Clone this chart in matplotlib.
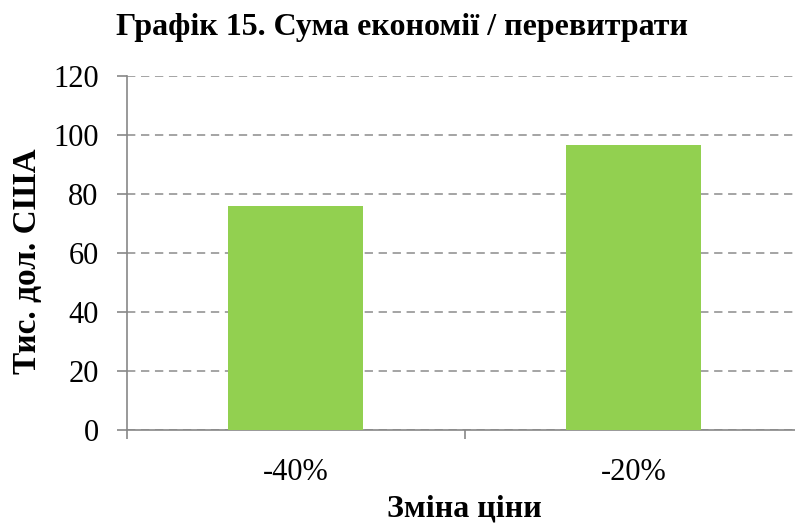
import matplotlib
matplotlib.use("Agg")
import matplotlib.pyplot as plt
from matplotlib.ticker import FixedLocator

categories = ["-40%", "-20%"]
values = [76, 96.5]
yticks = [0, 20, 40, 60, 80, 100, 120]

title = "Графік 15. Сума економії / перевитрати"
xlabel = "Зміна ціни"
ylabel = "Тис. дол. США"

plt.rcParams['font.family'] = ['Liberation Serif', 'DejaVu Serif']

fig = plt.figure(figsize=(7.95, 5.26), dpi=100)
ax = fig.add_axes([126.7/795, (526-430)/526, 676/795, 354/526])

x = list(range(len(categories)))
ax.bar(x, values, width=0.4, color="#92D050", zorder=3)

ax.set_xlim(-0.5, len(categories) - 0.5)
ax.set_ylim(0, 120)
ax.set_yticks(yticks)
ax.set_yticklabels([str(t) for t in yticks], fontsize=22)
ax.set_xticks(x)
ax.set_xticklabels(categories, fontsize=22)
ax.xaxis.set_minor_locator(FixedLocator([i - 0.5 for i in range(len(categories) + 1)]))

grid_color = "#8c8c8c"
ax.yaxis.grid(True, color=grid_color, linewidth=1.1, linestyle=(0, (5.45, 3.7)), zorder=0)
ax.set_axisbelow(True)

for s in ["top", "right"]:
    ax.spines[s].set_visible(False)
for s in ["left", "bottom"]:
    ax.spines[s].set_color("#878787")
    ax.spines[s].set_linewidth(1.2)

ax.tick_params(axis="y", direction="out", length=7.2, width=1.2, color="#878787", pad=13)
ax.tick_params(axis="x", which="major", length=0, pad=20)
ax.tick_params(axis="x", which="minor", direction="out", length=6.5, width=1.2, color="#878787")

fig.text(402/795, 1 - 28/526, title, ha="center", va="center", fontsize=23, fontweight="bold")
fig.text(464/795, 1 - 523/526, xlabel, ha="center", va="bottom", fontsize=23, fontweight="bold")
fig.text(28/795, 1 - 261/526, ylabel, ha="center", va="center", fontsize=24, fontweight="bold", rotation=90)

fig.savefig("out.png", dpi=100)
